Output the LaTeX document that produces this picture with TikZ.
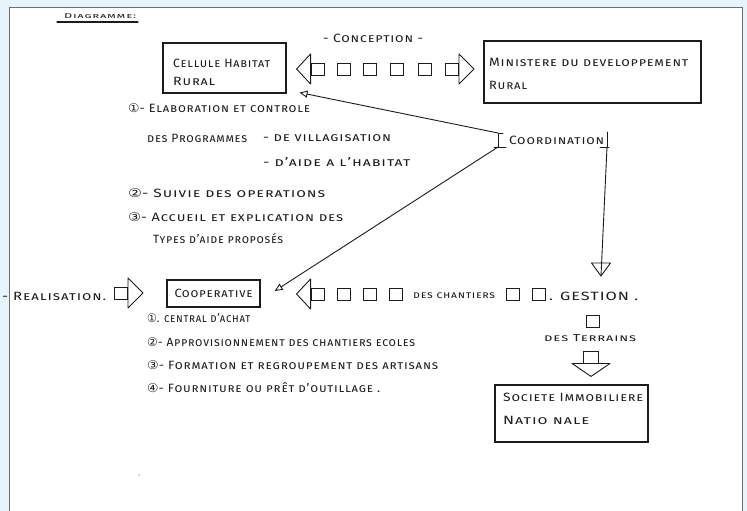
\documentclass[tikz,border=0pt]{standalone}
\usepackage{fontspec}
\setmainfont{Fira Sans}[LetterSpace=6]
\newfontfamily\dv{DejaVu Sans}
\usetikzlibrary{arrows.meta}
\definecolor{bgblue}{HTML}{E8F4FC}
\definecolor{inkc}{HTML}{1C1C1C}
\definecolor{paperedge}{HTML}{6E6E6E}
\newcommand\fw[2]{\resizebox{#1pt}{\height}{#2}}
\tikzset{
  ink/.style={draw=inkc, line width=0.9pt, line cap=round, line join=round},
  box/.style={draw=inkc, line width=1.1pt, inner sep=0pt},
  txt/.style={anchor=west, inner sep=0pt, text=inkc, font=\fontsize{12}{14}\selectfont\scshape},
  smalltxt/.style={txt, font=\fontsize{10}{12}\selectfont\scshape},
  sq/.style={draw=inkc, line width=0.9pt, minimum width=13pt, minimum height=12pt, inner sep=0pt},
  smallhead/.style={-{Triangle[open,length=8pt,width=7pt]}},
}
\begin{document}
\begin{tikzpicture}[x=1pt,y=-1pt]
\useasboundingbox (0,0) rectangle (747,511);
\fill[bgblue] (0,0) rectangle (747,511);
\draw[fill=white, draw=paperedge, line width=0.8pt] (9,7) rectangle (742,530);
\fill[gray!60] (139,475) circle (0.8);

% title
\node[txt, font=\fontsize{7}{8}\selectfont\scshape] (title) at (64,16) {\fw{72}{Diagramme:}};
\draw[ink, line width=1.2pt] (57,22) -- (138,22);

% conception
\node[txt] (concep) at (323,38) {\fw{100}{- Conception -}};

% boxes
\node[box, minimum width=123pt, minimum height=50pt] (cellule) at (224.5,68) {};
\node[txt] (celluleA) at (173,63) {\fw{97}{Cellule Habitat}};
\node[txt] (celluleB) at (173,81) {\fw{42}{Rural}};

\node[box, minimum width=217pt, minimum height=62pt] (ministere) at (592.5,72) {};
\node[txt] (ministereA) at (489,62) {\fw{199}{Ministere du developpement}};
\node[txt] (ministereB) at (489,85) {\fw{38}{Rural}};

\node[box, line width=1.4pt, minimum width=93pt, minimum height=27pt] (coop) at (213.5,293.5) {};
\node[txt, anchor=center] (coopT) at (coop.center) {\fw{78}{Cooperative}};

\node[box, minimum width=153pt, minimum height=57pt] (societe) at (571.5,413.5) {};
\node[txt] (societeA) at (503,397) {\fw{140}{Societe Immobiliere}};
\node[txt] (societeB) at (503,420) {\fw{86}{Natio nale}};

% conception chain
\node[sq] (cL0) at (317.5,69) {};
\node[sq] (cS1) at (344,69) {};
\node[sq] (cS2) at (370,69) {};
\node[sq] (cS3) at (397,69) {};
\node[sq] (cS4) at (425,69) {};
\node[sq] (cR0) at (452,69) {};
\draw[ink] ([yshift=-15pt]cL0.west) -- ([xshift=-14pt]cL0.west) -- ([yshift=15pt]cL0.west) -- cycle;
\draw[ink] ([yshift=-15pt]cR0.east) -- ([xshift=15pt]cR0.east) -- ([yshift=15pt]cR0.east) -- cycle;

% upper list
\node[txt] (l1) at (128,108) {\fw{182}{{\dv ①}- Elaboration et controle}};
\node[txt] (l1a) at (147,138) {\fw{100}{des Programmes}};
\node[txt] (l1b) at (263,138) {\fw{128}{- de villagisation}};
\node[txt] (l1c) at (263,162) {\fw{147}{- d'aide a l'habitat}};
\node[txt] (l2) at (128,193) {\fw{197}{{\dv ②}- Suivie des operations}};
\node[txt] (l3) at (128,217) {\fw{215}{{\dv ③}- Accueil et explication des}};
\node[txt] (l3a) at (153,239) {\fw{130}{Types d'aide proposés}};

% coordination
\node[txt] (coord) at (509,140) {\fw{95}{Coordination}};
\coordinate (bTL) at (498,133);
\coordinate (bBL) at (498,147);
\coordinate (bTR) at (607,132);
\coordinate (bBR) at (607,147);
\draw[ink] ([xshift=5pt]bTL) -- (bTL) -- (bBL);
\draw[ink] ([xshift=-4pt]bBL) -- ([xshift=8pt]bBL);
\draw[ink] (bTR) -- (bBR);
\draw[ink] ([xshift=-7pt]bBR) -- ([xshift=2pt]bBR);
\draw[ink, smallhead] (bTL) -- ([shift={(13,-1)}]cellule.south east);
\draw[ink, smallhead] (bBL) -- ([shift={(14,-2.5)}]coop.east);
\coordinate (vtip) at (601,276);
\draw[ink] (bBR) -- (vtip);
\draw[ink] ([shift={(-9.5,-13)}]vtip) -- ([shift={(9.5,-13)}]vtip) -- (vtip) -- cycle;

% realisation row
\node[txt] (real) at (2,296) {\fw{104}{- Realisation.}};
\node[sq] (rA) at (121,293) {};
\draw[ink] ([yshift=-15pt]rA.east) -- ([xshift=15pt]rA.east) -- ([yshift=15pt]rA.east) -- cycle;

\node[sq] (kL0) at (317.5,294) {};
\node[sq] (k1) at (344,294) {};
\node[sq] (k2) at (370,294) {};
\node[sq] (k3) at (396,294) {};
\draw[ink] ([yshift=-15pt]kL0.west) -- ([xshift=-14pt]kL0.west) -- ([yshift=15pt]kL0.west) -- cycle;
\node[smalltxt] (chant) at (413,296) {\fw{82}{des chantiers}};
\node[sq] (k4) at (512.5,294) {};
\node[sq] (k5) at (539,294) {};
\node[txt] (gest) at (549,296) {\fw{89}{. GESTION .}};

% gestion down
\node[sq] (g1) at (592.5,321) {};
\node[smalltxt] (terr) at (544,338) {\fw{92}{des Terrains}};
\node[sq, minimum width=15pt] (g2) at (591,357) {};
\draw[ink] ([xshift=-19pt]g2.south) -- ([yshift=-13pt]g2.south) -- ([xshift=19pt]g2.south) -- cycle;

% cooperative list
\node[txt] (m1) at (147,318) {\fw{103}{{\dv ①}. central d'achat}};
\node[txt] (m2) at (147,342) {\fw{268}{{\dv ②}- Approvisionnement des chantiers ecoles}};
\node[txt] (m3) at (147,365) {\fw{291}{{\dv ③}- Formation et regroupement des artisans}};
\node[txt] (m4) at (147,388) {\fw{233}{{\dv ④}- Fourniture ou prêt d'outillage .}};
\end{tikzpicture}
\end{document}
